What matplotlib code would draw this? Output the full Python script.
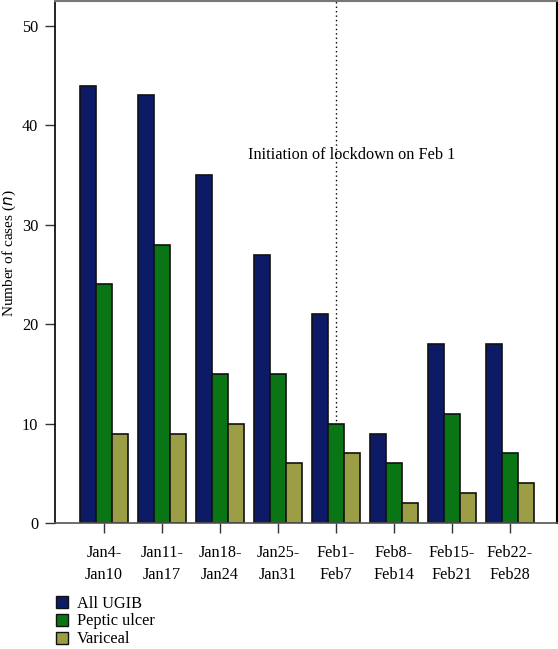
import matplotlib
matplotlib.use("Agg")
import matplotlib.pyplot as plt
import numpy as np
from matplotlib.patches import Patch

categories = ["Jan4-\nJan10", "Jan11-\nJan17", "Jan18-\nJan24", "Jan25-\nJan31",
              "Feb1-\nFeb7", "Feb8-\nFeb14", "Feb15-\nFeb21", "Feb22-\nFeb28"]
all_ugib = [44, 43, 35, 27, 21, 9, 18, 18]
peptic_ulcer = [24, 28, 15, 15, 10, 6, 11, 7]
variceal = [9, 9, 10, 6, 7, 2, 3, 4]
series_names = ["All UGIB", "Peptic ulcer", "Variceal"]
colors = ["#0d1a66", "#0a7515", "#9c9e45"]

plt.rcParams['font.family'] = ['Liberation Serif', 'DejaVu Serif']
FS = 11.7

fig = plt.figure(figsize=(5.58, 6.49), dpi=100)
ax = fig.add_axes([55/558, 126/649, 502/558, 522/649])

x = np.arange(len(categories))
w = 0.28
for i, (vals, c) in enumerate(zip([all_ugib, peptic_ulcer, variceal], colors)):
    ax.bar(x + (i - 1) * w, vals, width=w, color=c, edgecolor="#111111", linewidth=1.2, zorder=2)

ax.set_xlim(-0.845, 7.81)
ax.set_ylim(0, 52.5)
ax.set_yticks([0, 10, 20, 30, 40, 50])
ax.set_xticks(x)
ax.set_xticklabels(categories, fontsize=FS, linespacing=1.45)
ax.tick_params(axis='y', labelsize=FS, length=7, width=1, color="#333333", pad=5)
ax.tick_params(axis='x', length=7, width=1, color="#333333", pad=9)

ax.axvline(4, color="black", linestyle=(0, (1, 2.2)), linewidth=1.0, zorder=1)
ax.text(4.27, 37, "Initiation of lockdown on Feb 1", ha="center", va="center", fontsize=FS)

ax.set_ylabel("Number of cases ($n$)", fontsize=11, va="center")
ax.yaxis.set_label_coords(-46/502, 0.517)

ax.spines['left'].set_color("black")
ax.spines['right'].set_color("black")
ax.spines['left'].set_linewidth(1.2)
ax.spines['right'].set_linewidth(1.5)
ax.spines['top'].set_color("#777777")
ax.spines['top'].set_linewidth(1.5)
ax.spines['bottom'].set_color("#555555")
ax.spines['bottom'].set_linewidth(1.2)

handles = [Patch(facecolor=c, edgecolor="#111111", linewidth=1.0) for c in colors]
fig.legend(handles, series_names, loc="upper left", bbox_to_anchor=(49/558, 1 - 589/649),
           frameon=False, fontsize=FS, handlelength=0.75, handleheight=0.8,
           handletextpad=0.55, labelspacing=0.12, borderaxespad=0)

fig.savefig("out.png", dpi=100)
